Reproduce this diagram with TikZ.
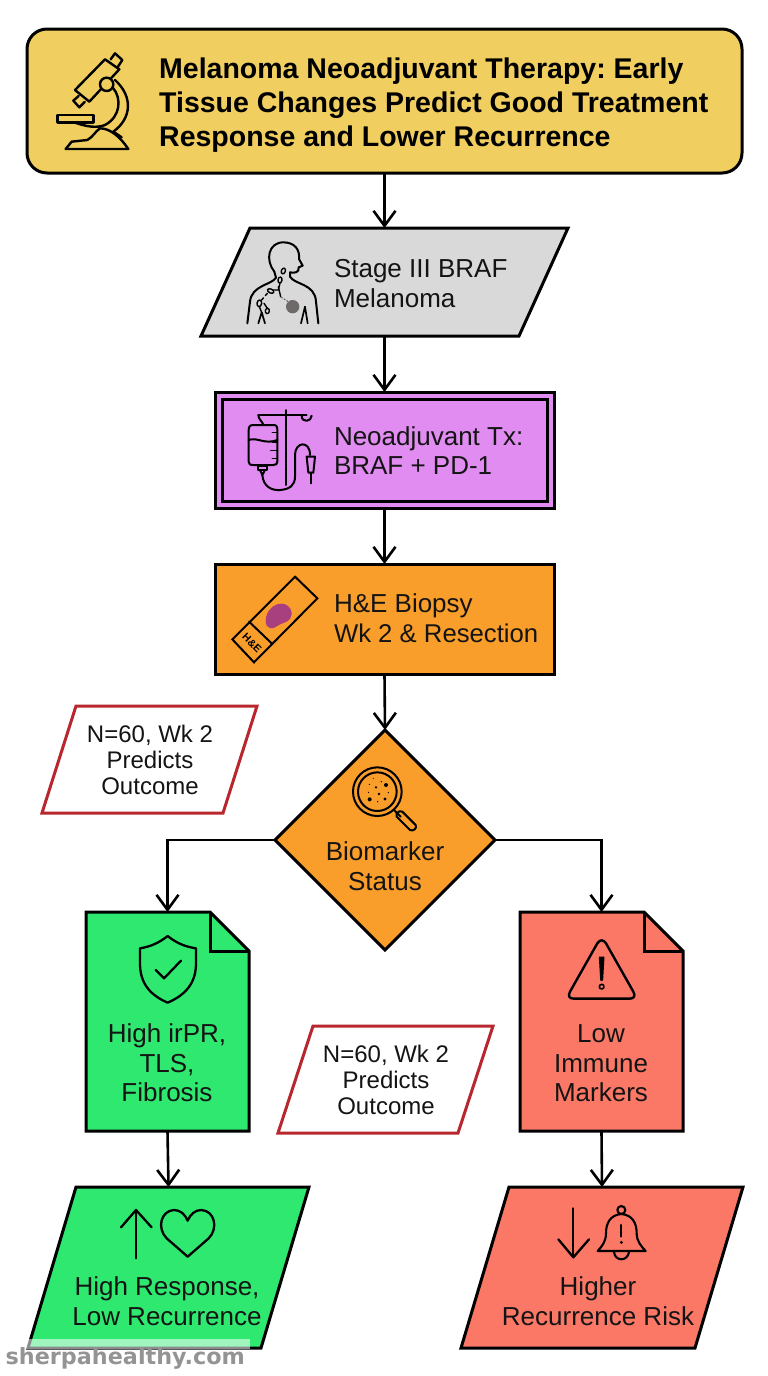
\documentclass[tikz,border=0pt]{standalone}
\usepackage{fontspec}
\setmainfont{Liberation Sans}
\newfontfamily\wmfont{DejaVu Sans}
\usetikzlibrary{arrows.meta,shapes.geometric,calc}
\definecolor{titlefill}{HTML}{F0CE5F}
\definecolor{greyfill}{HTML}{D9D9D9}
\definecolor{txfill}{HTML}{E08CF0}
\definecolor{orangefill}{HTML}{F99D2B}
\definecolor{greenfill}{HTML}{2EE870}
\definecolor{redfill}{HTML}{FB7766}
\definecolor{notered}{HTML}{B8272E}
\definecolor{inktext}{HTML}{141414}
\definecolor{slideblob}{HTML}{A8407F}
\definecolor{tumour}{HTML}{6E6A6A}
\tikzset{
  boxline/.style={draw=black,line width=3pt,outer sep=0pt,inner sep=0pt},
  ghost/.style={rectangle,inner sep=0pt,outer sep=0pt},
  label/.style={anchor=base,font=\fontsize{26}{26}\selectfont,text=inktext,inner sep=0pt,outer sep=0pt},
  lefttext/.style={label,anchor=base west},
  titletext/.style={anchor=base west,font=\fontsize{28.5}{28}\selectfont\bfseries,text=black,inner sep=0pt},
  notetext/.style={label,font=\fontsize{24}{24}\selectfont},
  flow/.style={draw=black,line width=2.6pt,-{Straight Barb[length=15pt,width=22pt,line width=2.6pt]}},
  icon/.style={draw=black,line width=2pt,line join=round,line cap=round},
  crop/.style={x=0.33333pt,y=-0.33333pt},
}
\newcommand\slantbox[3]{\draw[boxline,line join=miter,#3] (#1.south west) -- ($(#1.north west)+(#2,0)$) -- (#1.north east) -- ($(#1.south east)+(-#2,0)$) -- cycle;}
\newcommand\foldbox[2]{%
  \draw[boxline,line join=miter,fill=#2] (#1.north west) -- ($(#1.north east)+(-39,0)$) -- ($(#1.north east)+(0,39)$) -- (#1.south east) -- (#1.south west) -- cycle;
  \draw[boxline,line join=miter] ($(#1.north east)+(-39,0)$) -- ($(#1.north east)+(-39,39)$) -- ($(#1.north east)+(0,39)$);}
\frenchspacing
\begin{document}
\begin{tikzpicture}[x=1pt,y=-1pt]
\frenchspacing
\path[use as bounding box,fill=white] (0,0) rectangle (768,1376);

% ---------- boxes
\node[boxline,rectangle,rounded corners=20pt,fill=titlefill,minimum width=715pt,minimum height=144pt] (title) at (384.5,101) {};
\node[ghost,minimum width=367pt,minimum height=108pt] (stage) at (384.5,282) {};
\slantbox{stage}{49}{fill=greyfill}
\node[boxline,rectangle,fill=txfill,minimum width=339pt,minimum height=116pt] (tx) at (384.5,450) {};
\node[boxline,rectangle,minimum width=325pt,minimum height=102pt] (txinner) at (384.5,450) {};
\node[boxline,rectangle,fill=orangefill,minimum width=339pt,minimum height=110pt] (he) at (384.5,619) {};
\node[boxline,diamond,fill=orangefill,minimum width=220pt,minimum height=220pt] (bio) at (385,840) {};
\node[ghost,minimum width=163pt,minimum height=219pt] (gdoc) at (167.5,1021.5) {};
\foldbox{gdoc}{greenfill}
\node[ghost,minimum width=163pt,minimum height=219pt] (rdoc) at (601.5,1021.5) {};
\foldbox{rdoc}{redfill}
\node[ghost,minimum width=281pt,minimum height=161pt] (gout) at (168.5,1267.5) {};
\slantbox{gout}{48}{fill=greenfill}
\node[ghost,minimum width=282pt,minimum height=161pt] (rout) at (602,1267.5) {};
\slantbox{rout}{48}{fill=redfill}
\node[ghost,minimum width=215pt,minimum height=107pt] (note1) at (149.5,759.5) {};
\slantbox{note1}{34}{draw=notered,fill=white}
\node[ghost,minimum width=215pt,minimum height=107pt] (note2) at (385.5,1079.5) {};
\slantbox{note2}{35}{draw=notered,fill=white}

% ---------- connectors
\draw[flow] (title.south) -- (stage.north);
\draw[flow] (stage.south) -- (tx.north);
\draw[flow] (tx.south) -- (he.north);
\draw[flow] (he.south) -- (bio.north);
\draw[flow] (bio.west) -| (gdoc.north);
\draw[flow] (bio.east) -| (rdoc.north);
\draw[flow] (gdoc.south) -- (gout.north);
\draw[flow] (rdoc.south) -- (rout.north);

% ---------- texts
\node[titletext] (t1) at (159,78) {Melanoma Neoadjuvant Therapy: Early};
\node[titletext] (t2) at (159,112) {Tissue Changes Predict Good Treatment};
\node[titletext] (t3) at (159,146) {Response and Lower Recurrence};
\node[lefttext] (s1) at (334,277) {Stage III BRAF};
\node[lefttext] (s2) at (334,307) {Melanoma};
\node[lefttext] (x1) at (334,445) {Neoadjuvant Tx:};
\node[lefttext] (x2) at (334,474) {BRAF + PD-1};
\node[lefttext] (h1) at (334,612) {H\&E Biopsy};
\node[lefttext,font=\fontsize{25.7}{26}\selectfont] (h2) at (334,642) {Wk 2 \& Resection};
\node[label] (b1) at (385,860) {Biomarker};
\node[label] (b2) at (385,890) {Status};
\node[label] (g1) at (167,1042) {High irPR,};
\node[label] (g2) at (167,1072) {TLS,};
\node[label] (g3) at (167,1101) {Fibrosis};
\node[label] (r1) at (601,1042) {Low};
\node[label] (r2) at (601,1072) {Immune};
\node[label] (r3) at (601,1101) {Markers};
\node[label] (go1) at (167,1295) {High Response,};
\node[label] (go2) at (167,1325) {Low Recurrence};
\node[label] (ro1) at (598,1295) {Higher};
\node[label] (ro2) at (598,1325) {Recurrence Risk};
\node[notetext] (n11) at (150,742) {N=60, Wk 2};
\node[notetext] (n12) at (150,768) {Predicts};
\node[notetext] (n13) at (150,794) {Outcome};
\node[notetext] (n21) at (386,1062) {N=60, Wk 2};
\node[notetext] (n22) at (386,1088) {Predicts};
\node[notetext] (n23) at (386,1114) {Outcome};

% ---------- microscope
\begin{scope}[crop]
\draw[icon,line width=2.4pt] (225,270) -- (315,178) -- (358,208) -- (268,305) -- cycle;
\draw[icon,line width=2.4pt] (332,178) -- (345,160) -- (367,180) -- (352,203);
\draw[icon,line width=2.4pt] (236,288) -- (220,302) -- (238,322) -- (254,306);
\draw[icon,line width=2.4pt,fill=titlefill] (320,253) circle (20);
\draw[icon,line width=2.4pt] (172,345) rectangle (280,368);
\draw[icon,line width=2.4pt] (340,265) .. controls (365,295) and (362,350) .. (315,375) .. controls (290,385) and (260,380) .. (225,368);
\draw[icon,line width=2.4pt] (345,240) .. controls (400,290) and (395,355) .. (340,395);
\draw[icon,line width=2.4pt] (197,447) -- (385,447) .. controls (360,410) and (330,385) .. (300,385) .. controls (285,395) and (280,410) .. (262,420) -- (215,425) -- (197,447) -- cycle;
\draw[icon,line width=2.4pt] (340,395) -- (365,412);
\end{scope}

% ---------- person
\begin{scope}[shift={(240,235)},crop]
\draw[icon,line width=2pt] (103,110) .. controls (75,75) and (85,22) .. (130,22) .. controls (165,22) and (180,45) .. (177,72) -- (188,92) -- (176,97) .. controls (178,112) and (165,115) .. (150,112) -- (150,125) .. controls (165,150) and (225,145) .. (228,200) -- (235,265);
\draw[icon,line width=2pt] (103,110) -- (108,128) .. controls (95,150) and (35,150) .. (30,200) -- (22,265);
\draw[icon,line width=1.7pt] (183,265) -- (195,215) -- (203,265);
\draw[icon,line width=1.7pt] (55,265) -- (65,232) -- (75,265);
\foreach \ex/\ey/\ea/\erx/\ery in {130/108/70/9/6,120/135/80/9/6,92/168/-25/10/6,58/205/80/10/7,82/228/80/8/6}
  \draw[icon,line width=1.4pt,rotate around={\ea:(\ex,\ey)}] (\ex,\ey) ellipse ({\erx} and {\ery});
\draw[icon,line width=1.4pt] (120,145) -- (115,165) -- (100,165);
\draw[icon,line width=1.4pt] (115,155) -- (122,185);
\draw[icon,line width=1.4pt,dashed] (82,175) -- (65,195);
\draw[icon,line width=1.4pt] (72,205) -- (82,220);
\draw[icon,line width=1.4pt] (58,215) -- (68,240);
\draw[icon,line width=1.2pt,dotted,draw=black!60] (124,187) -- (145,200);
\fill[tumour] (158,215) circle (20);
\end{scope}

% ---------- IV drip
\begin{scope}[shift={(200,380)},crop]
\draw[icon] (257,90) -- (257,315);
\draw[icon] (175,105) -- (320,105);
\draw[icon] (175,105) .. controls (175,118) and (188,125) .. (190,135);
\draw[icon] (305,107) .. controls (305,130) and (335,125) .. (335,107);
\draw[icon] (160,135) -- (220,135) .. controls (230,135) and (232,140) .. (232,150) -- (232,245) .. controls (232,252) and (228,255) .. (220,255) -- (160,255) .. controls (150,255) and (146,252) .. (146,245) -- (146,150) .. controls (146,140) and (150,135) .. (160,135);
\draw[icon] (146,180) .. controls (170,170) and (195,195) .. (232,180);
\foreach \ty/\tl in {158/15,186/15,212/20,236/15} \draw[icon,line width=1.6pt] (232,\ty) -- ++(-\tl,0);
\draw[icon] (175,257) rectangle (200,270);
\draw[icon] (180,270) -- (187,285) -- (195,270);
\draw[icon] (187,285) .. controls (190,320) and (215,332) .. (240,330) .. controls (270,328) and (285,315) .. (285,290) -- (285,225) .. controls (285,185) and (330,180) .. (330,225);
\draw[icon] (320,230) -- (345,230) -- (340,278) -- (325,278) -- cycle;
\draw[icon] (332,278) -- (332,310);
\end{scope}

% ---------- slide
\begin{scope}[shift={(200,380)},crop]
\draw[icon,line join=miter] (285,590) -- (352,655) -- (162,847) -- (97,778) -- cycle;
\draw[icon] (147,725) -- (215,790);
\fill[slideblob] (197,722) .. controls (197,695) and (220,670) .. (245,671) .. controls (272,672) and (282,702) .. (270,717) .. controls (258,730) and (245,728) .. (232,738) .. controls (218,750) and (197,748) .. (197,722) -- cycle;
\node[rotate=-45,font=\fontsize{10.5}{10}\selectfont\bfseries,text=black,inner sep=0pt] (slidelabel) at (156,789) {H\&E};
\end{scope}

% ---------- magnifier
\begin{scope}[shift={(270,730)},crop]
\draw[icon] (322,185) circle (73);
\draw[icon] (322,185) circle (58);
\draw[icon] (372,240) -- (392,260);
\draw[icon] (380,250) .. controls (385,245) and (392,240) .. (397,245) -- (437,285) .. controls (442,295) and (430,305) .. (420,300) -- (380,260) -- cycle;
\foreach \dx/\dy/\dr in {298/163/2,318/172/4,334/155/2,348/165/6,355/188/2,327/192/4,296/187/2,299/208/6,323/215/2,345/207/5,310/145/1.5}
  \fill[black] (\dx,\dy) circle (\dr);
\end{scope}

% ---------- shield
\begin{scope}[shift={(100,920)},crop]
\draw[icon,line width=2.3pt] (203,48) .. controls (175,70) and (150,80) .. (120,85) -- (120,130) .. controls (120,190) and (150,225) .. (203,248) .. controls (256,225) and (288,190) .. (288,130) -- (288,85) .. controls (256,80) and (230,70) .. (203,48) -- cycle;
\draw[icon,line width=2.3pt] (167,150) -- (192,175) -- (243,122);
\end{scope}

% ---------- warning triangle
\begin{scope}[shift={(270,730)},crop]
\draw[icon,line width=2.4pt] (982,640) .. controls (990,628) and (1000,628) .. (1008,640) -- (1090,785) .. controls (1098,800) and (1090,806) .. (1078,806) -- (912,806) .. controls (900,806) and (892,800) .. (900,785) -- cycle;
\draw[icon,line width=1.6pt,fill=black] (989,682) -- (1001,682) -- (997,750) -- (993,750) -- cycle;
\draw[icon,line width=1.6pt] (995,770) circle (7);
\end{scope}

% ---------- up arrow and heart
\begin{scope}[shift={(0,1170)},crop]
\draw[icon,line width=2.3pt] (408,265) -- (408,120);
\draw[icon,line width=2.3pt] (363,172) -- (408,120) -- (455,172);
\draw[icon,line width=2.3pt] (563,260) -- (500,205) .. controls (470,175) and (482,122) .. (522,120) .. controls (540,120) and (555,132) .. (563,152) .. controls (571,132) and (586,120) .. (604,120) .. controls (644,122) and (656,175) .. (626,205) -- cycle;
\end{scope}

% ---------- down arrow and bell
\begin{scope}[shift={(460,1180)},crop]
\draw[icon,line width=2.3pt] (340,85) -- (340,232);
\draw[icon,line width=2.3pt] (295,178) -- (340,232) -- (387,178);
\draw[icon,line width=2.1pt] (484,90) circle (12);
\draw[icon,line width=2.1pt] (484,102) .. controls (450,105) and (438,130) .. (438,160) .. controls (438,185) and (425,200) .. (413,213) -- (557,213) .. controls (545,200) and (530,185) .. (530,160) .. controls (530,130) and (518,105) .. (484,102) -- cycle;
\draw[icon,line width=2.1pt] (462,216) .. controls (465,245) and (503,245) .. (507,216);
\draw[icon,line width=2.1pt] (484,135) -- (484,170);
\fill[black] (484,187) circle (5);
\end{scope}

% ---------- watermark
\fill[white,opacity=0.55] (26,1339) rectangle (250,1349);
\node[anchor=base west,inner sep=0pt,font=\fontsize{22.3}{22}\selectfont\wmfont\bfseries,text=black!42] (wm) at (5.5,1364) {sherpahealthy.com};
\end{tikzpicture}
\end{document}
